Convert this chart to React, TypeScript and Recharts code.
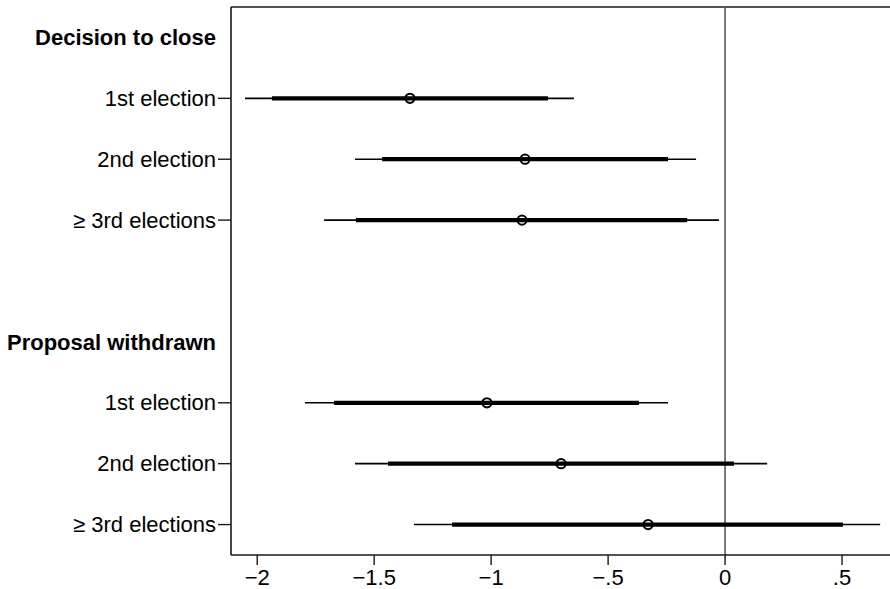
import React from 'react';
import {
  ComposedChart,
  Scatter,
  ErrorBar,
  XAxis,
  YAxis,
  ReferenceLine,
} from 'recharts';

// y-axis rows, top to bottom (row 4 is the empty gap between the two blocks)
const rowLabels = [
  'Decision to close',
  '1st election',
  '2nd election',
  '≥ 3rd elections',
  '',
  'Proposal withdrawn',
  '1st election',
  '2nd election',
  '≥ 3rd elections',
];
const headerRows = [0, 5];

// estimates and the two confidence intervals, one entry per plotted row
const rows = [1, 2, 3, 6, 7, 8];
const estimate = [-1.347, -0.855, -0.868, -1.018, -0.701, -0.329];
const low95 = [-2.052, -1.582, -1.714, -1.796, -1.582, -1.33];
const high95 = [-0.646, -0.124, -0.026, -0.244, 0.18, 0.663];
const low90 = [-1.937, -1.466, -1.578, -1.672, -1.441, -1.167];
const high90 = [-0.757, -0.244, -0.162, -0.368, 0.038, 0.504];

const xTicks = [-2, -1.5, -1, -0.5, 0, 0.5];
const xTickLabels = ['−2', '−1.5', '−1', '−.5', '0', '.5'];

const font = 'Liberation Sans, Arial, Helvetica, sans-serif';
const axisColor = '#1a1a1a';

const data = rows.map((row, i) => ({
  row,
  est: estimate[i],
  ci95: [estimate[i] - low95[i], high95[i] - estimate[i]],
  ci90: [estimate[i] - low90[i], high90[i] - estimate[i]],
}));

const RowTick = (props: any) => {
  const { x, y, payload } = props;
  const label = rowLabels[payload.value];
  if (!label) return <g />;
  const isHeader = headerRows.includes(payload.value);
  return (
    <g>
      {!isHeader && (
        <line x1={x + 2} x2={x + 15} y1={y} y2={y} stroke={axisColor} strokeWidth={1.4} />
      )}
      <text
        x={x}
        y={y}
        dy="0.35em"
        textAnchor="end"
        fontFamily={font}
        fontSize={22}
        fontWeight={isHeader ? 'bold' : 'normal'}
        fill="#000"
      >
        {label}
      </text>
    </g>
  );
};

const HollowDot = (props: any) => (
  <circle cx={props.cx} cy={props.cy} r={4.6} fill="none" stroke="#000" strokeWidth={2} />
);

export default function App() {
  return (
    <div style={{ position: 'absolute', left: 0, top: 0, background: '#fff' }}>
      <ComposedChart
        width={890}
        height={589}
        data={data}
        margin={{ top: 7, right: 0, bottom: 0, left: 0 }}
      >
        <XAxis
          type="number"
          dataKey="est"
          domain={[-2.112, 0.705]}
          allowDataOverflow
          ticks={xTicks}
          tickFormatter={(v: number) => xTickLabels[xTicks.indexOf(v)] ?? String(v)}
          height={34}
          tickSize={10}
          tickMargin={4}
          axisLine={{ stroke: axisColor, strokeWidth: 1.6 }}
          tickLine={{ stroke: axisColor, strokeWidth: 1.4 }}
          tick={{ fill: '#000', fontSize: 22, fontFamily: font }}
        />
        <YAxis
          type="number"
          dataKey="row"
          domain={[-0.5, 8.5]}
          reversed
          allowDataOverflow
          ticks={[0, 1, 2, 3, 4, 5, 6, 7, 8]}
          interval={0}
          width={231}
          tickSize={13}
          tickMargin={2}
          tickLine={false}
          axisLine={{ stroke: axisColor, strokeWidth: 1.6 }}
          tick={<RowTick />}
        />
        <ReferenceLine y={-0.5} stroke={axisColor} strokeWidth={1.6} />
        <ReferenceLine x={0} stroke="#6b6b6b" strokeWidth={1.8} />
        <Scatter dataKey="est" shape={<HollowDot />} isAnimationActive={false}>
          <ErrorBar dataKey="ci95" direction="x" width={0} stroke="#000" strokeWidth={1.6} />
          <ErrorBar dataKey="ci90" direction="x" width={0} stroke="#000" strokeWidth={4.2} />
        </Scatter>
      </ComposedChart>
    </div>
  );
}
